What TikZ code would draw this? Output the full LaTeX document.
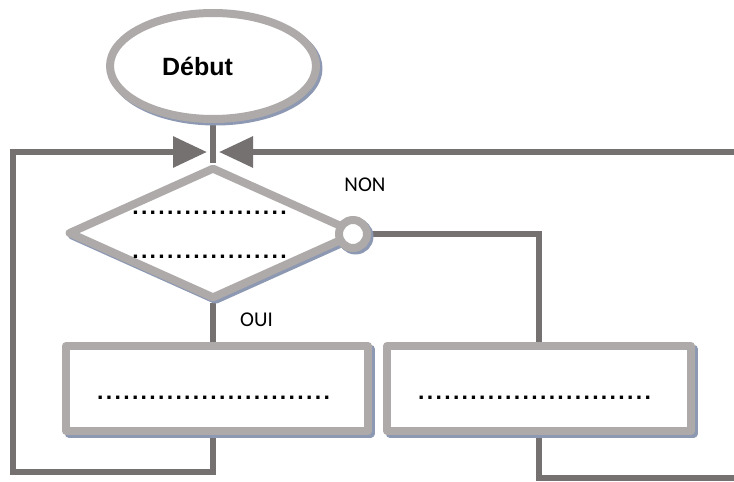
\documentclass[tikz,border=0pt]{standalone}
\usepackage{fontspec}
\setmainfont{Liberation Sans}
\newfontfamily\lblfont{Carlito}
\usetikzlibrary{shapes.geometric,arrows.meta,backgrounds}
\definecolor{boxc}{HTML}{AEAAA9}
\definecolor{shadc}{HTML}{8D98B2}
\definecolor{linec}{HTML}{757171}
\newcommand\dotrow[1]{\hbox to \dimexpr8.7pt*#1\relax{\xleaders\hbox to 8.7pt{\hss.\hss}\hfill}}
\begin{document}
\begin{tikzpicture}[x=1pt,y=-1pt,
  shadowed/.style={preaction={draw=shadc,line width=8pt,transform canvas={shift={(2.5pt,-2.5pt)}}}},
  shapebox/.style={draw=boxc,line width=8pt,fill=white,inner sep=0pt,line join=round,shadowed},
  conn/.style={draw=linec,line width=6pt},
  arrowtip/.style={-{Triangle[length=34pt,width=30pt]}},
  lbl/.style={font=\lblfont\fontsize{21}{25}\selectfont,inner sep=0pt},
  dotrowstyle/.style={font=\bfseries\fontsize{23}{27}\selectfont,inner sep=0pt,anchor=base}]
\useasboundingbox (0,0) rectangle (734,482);
% shapes
\node[shapebox,ellipse,minimum width=206pt,minimum height=106pt] (start) at (213,66) {};
\node[font=\bfseries\fontsize{25}{30}\selectfont,inner sep=0pt] (starttxt) at (197.5,66) {Début};
\node[shapebox,diamond,minimum width=290pt,minimum height=132pt] (dec) at (213,233) {};
\node[shapebox,circle,minimum size=28pt] (nonc) at (353,234) {};
\node[shapebox,rectangle,minimum width=302pt,minimum height=85pt] (box1) at (217,388.5) {};
\node[shapebox,rectangle,minimum width=304pt,minimum height=85pt] (box2) at (539,388.5) {};
% texts
\node[dotrowstyle] (d1) at (209.5,214.5) {\dotrow{18}};
\node[dotrowstyle] (d2) at (209.5,258.5) {\dotrow{18}};
\node[dotrowstyle] (d3) at (213.5,399.5) {\dotrow{27}};
\node[dotrowstyle] (d4) at (534.5,399.5) {\dotrow{27}};
\node[lbl] (non) at (365,184.5) {NON};
\node[lbl] (oui) at (256.5,320) {OUI};
% connector ends
\coordinate (jl) at (207,152);
\coordinate (jr) at (219,152);
\coordinate (ll) at (13,472);
\coordinate (tr) at (738,152);
\coordinate (br) at (738,478);
\begin{pgfonlayer}{background}
\draw[conn] (start.south) -- (dec.north);
\draw[conn] (dec.south) -- (dec.south |- box1.north);
\draw[conn,arrowtip] (dec.south |- box1.south) |- (ll) |- (jl);
\draw[conn,arrowtip] (tr) -- (jr);
\draw[conn] (nonc.east) -| (box2.north);
\draw[conn] (box2.south) |- (br);
\end{pgfonlayer}
\end{tikzpicture}
\end{document}
